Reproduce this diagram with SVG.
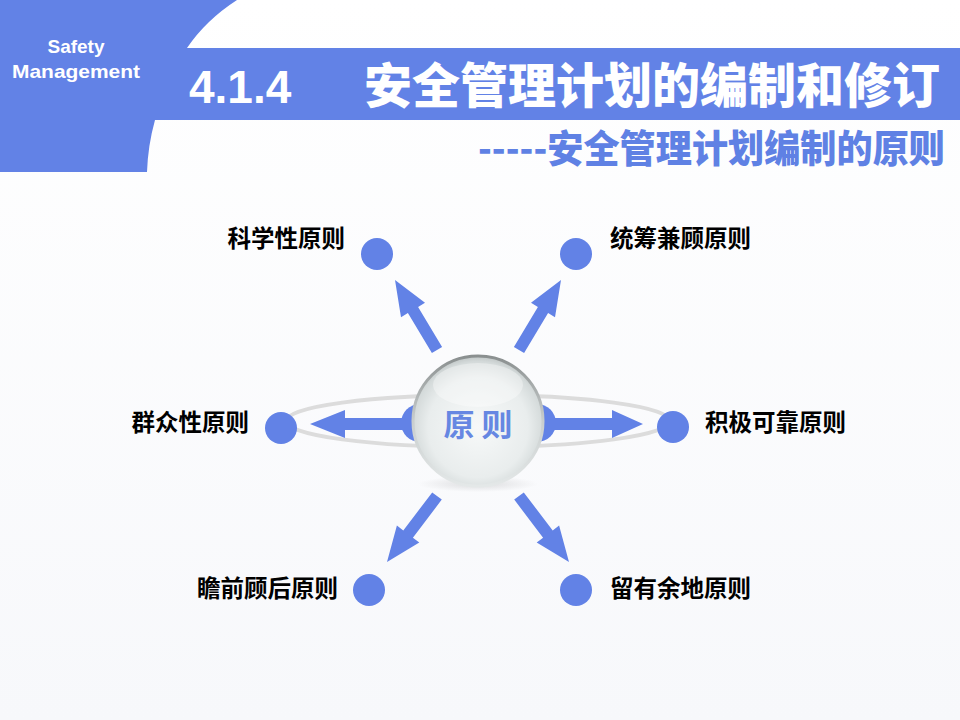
<svg xmlns="http://www.w3.org/2000/svg" width="960" height="720" viewBox="0 0 960 720">
<defs>
<linearGradient id="bg" x1="0" y1="0" x2="0" y2="1">
<stop offset="0" stop-color="#ffffff"/>
<stop offset="1" stop-color="#f7f8fb"/>
</linearGradient>
<radialGradient id="sph" cx="0.5" cy="0.55" r="0.55">
<stop offset="0" stop-color="#f7f9f9"/>
<stop offset="0.7" stop-color="#e9eded"/>
<stop offset="0.92" stop-color="#d4dada"/>
<stop offset="1" stop-color="#c0c6c6"/>
</radialGradient>
<linearGradient id="rim" x1="0" y1="0" x2="0" y2="1">
<stop offset="0" stop-color="#8a8f8f"/>
<stop offset="0.5" stop-color="#c9cece"/>
<stop offset="1" stop-color="#e4e8e8"/>
</linearGradient>
<radialGradient id="shadow" cx="0.5" cy="0.5" r="0.5">
<stop offset="0" stop-color="#000" stop-opacity="0.12"/>
<stop offset="1" stop-color="#000" stop-opacity="0"/>
</radialGradient>
</defs>
<style>
.blue{fill:#6282e6}
.lbl{font-family:"Noto Sans CJK SC","Liberation Sans",sans-serif;font-weight:700;font-size:23.5px;fill:#000}
.hdr{font-family:"Liberation Sans","Noto Sans CJK SC",sans-serif;font-weight:700;fill:#fff}
</style>
<rect width="960" height="720" fill="url(#bg)"/>
<g id="header">
<path class="blue" d="M0,0 H237 Q206,20 187,48 H960 V120 H155 Q148,145 147,172 H0 Z"/>
<text class="hdr" x="76" y="53" font-size="19" text-anchor="middle">Safety</text>
<text class="hdr" x="76" y="78" font-size="19" text-anchor="middle" textLength="128" lengthAdjust="spacingAndGlyphs">Management</text>
<text class="hdr" x="189" y="103" font-size="46">4.1.4</text>
<text x="940" y="103" text-anchor="end" font-family="'Noto Sans CJK SC',sans-serif" font-weight="900" font-size="48" fill="#fff">安全管理计划的编制和修订</text>
<text x="478" y="162" font-family="'Noto Sans CJK SC',sans-serif" font-weight="900" font-size="38" fill="#5f81e4" textLength="467" lengthAdjust="spacingAndGlyphs">-----安全管理计划编制的原则</text>
</g>
<g id="hub-back">
<ellipse cx="478" cy="421" rx="192" ry="26" fill="none" stroke="#dcdcdc" stroke-width="4"/>
<circle class="blue" cx="420" cy="423" r="19"/>
<circle class="blue" cx="537" cy="423" r="19"/>
</g>
<g id="connectors" class="blue">
<polygon points="420,418 345,418 345,410 310,424 345,438 345,430 420,430"/>
<polygon points="537,418 612,418 612,410 643,424 612,438 612,430 537,430"/>
<polygon points="442.1,346.9 418.1,306.9 425,302.8 395,280 401,317.2 407.9,313.1 431.9,353.1"/>
<polygon points="513.9,346.9 537.9,306.9 531,302.8 561,280 555,317.2 548.1,313.1 524.1,353.1"/>
<polygon points="432.2,492.4 403.3,530.5 396.9,525.6 387,562 419.3,542.6 412.9,537.7 441.8,499.6"/>
<polygon points="523.8,492.4 552.7,530.5 559.1,525.6 569,562 536.7,542.6 543.1,537.7 514.2,499.6"/>
</g>
<g id="center">
<ellipse cx="478" cy="484" rx="60" ry="8" fill="url(#shadow)"/>
<circle cx="478" cy="421" r="65" fill="url(#sph)" stroke="url(#rim)" stroke-width="3"/>
<ellipse cx="478" cy="385" rx="45" ry="22" fill="#ffffff" opacity="0.35"/>
<text x="478" y="436" text-anchor="middle" font-family="'Noto Sans CJK SC',sans-serif" font-weight="700" font-size="31" fill="#6687e2">原 则</text>
</g>
<g id="node-kexue">
<circle class="blue" cx="377" cy="254" r="16"/>
<text class="lbl" x="345" y="247" text-anchor="end">科学性原则</text>
</g>
<g id="node-tongchou">
<circle class="blue" cx="576" cy="254" r="16"/>
<text class="lbl" x="610" y="247">统筹兼顾原则</text>
</g>
<g id="node-qunzhong">
<circle class="blue" cx="281" cy="428" r="16"/>
<text class="lbl" x="249" y="431" text-anchor="end">群众性原则</text>
</g>
<g id="node-jiji">
<circle class="blue" cx="673" cy="427" r="16"/>
<text class="lbl" x="705" y="431">积极可靠原则</text>
</g>
<g id="node-zhanqian">
<circle class="blue" cx="369" cy="590" r="16"/>
<text class="lbl" x="338" y="597" text-anchor="end">瞻前顾后原则</text>
</g>
<g id="node-liuyou">
<circle class="blue" cx="576" cy="590" r="16"/>
<text class="lbl" x="610" y="597">留有余地原则</text>
</g>
</svg>
